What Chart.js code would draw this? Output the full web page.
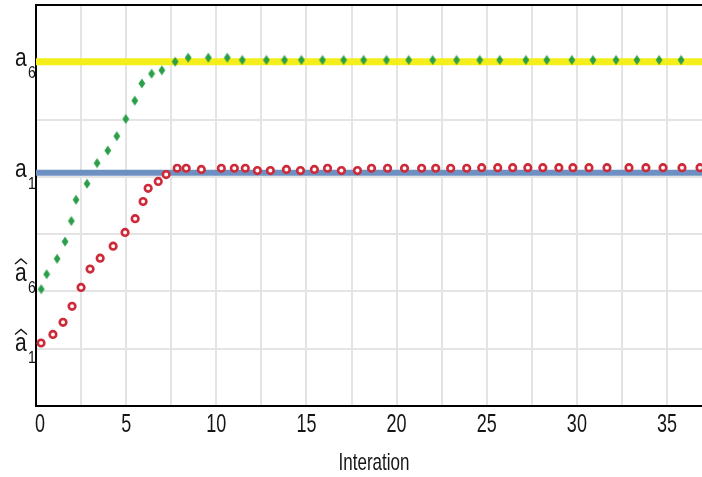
<!DOCTYPE html>
<html>
<head>
<meta charset="utf-8">
<script src="https://cdn.jsdelivr.net/npm/chart.js@4/dist/chart.umd.min.js"></script>
<style>
  html, body { margin: 0; padding: 0; background: #ffffff; overflow: hidden; }
  #wrap { width: 702px; height: 477px; }
  canvas { display: block; }
</style>
</head>
<body>
<div id="wrap"><canvas id="chart" width="702" height="477"></canvas></div>
<script>
// Estimates of a6 (green) and a1 (red) over the iterations
const greenIter = [0.29, 0.59, 1.17, 1.61, 1.96, 2.22, 2.83, 3.39, 3.98, 4.48, 4.98, 5.48, 5.87, 6.41, 6.98,
  7.72, 8.44, 9.56, 10.61, 11.44, 12.78, 13.78, 14.72, 15.89, 17.06, 18.17, 19.44, 20.67, 22.0, 23.33,
  24.61, 25.72, 27.17, 28.33, 29.72, 30.89, 32.17, 33.33, 34.56, 35.78];
const greenValue = [2.04, 2.30, 2.57, 2.87, 3.23, 3.60, 3.88, 4.24, 4.46, 4.71, 5.01, 5.33, 5.63, 5.80, 5.86,
  6.01, 6.08, 6.08, 6.08, 6.04, 6.04, 6.04, 6.04, 6.04, 6.04, 6.04, 6.04, 6.04, 6.04, 6.04,
  6.04, 6.04, 6.04, 6.04, 6.04, 6.04, 6.04, 6.04, 6.04, 6.04];

const redIter = [0.28, 0.94, 1.50, 2.00, 2.50, 3.00, 3.56, 4.28, 4.94, 5.50, 5.94, 6.22, 6.78, 7.22, 7.83,
  8.33, 9.17, 10.28, 11.00, 11.61, 12.28, 13.00, 13.89, 14.67, 15.44, 16.17, 16.94, 17.83, 18.61, 19.50,
  20.44, 21.39, 22.17, 23.00, 23.89, 24.72, 25.61, 26.44, 27.28, 28.11, 29.00, 29.78, 30.67, 31.67, 32.89,
  33.83, 34.78, 35.83, 36.83];
const redValue = [1.10, 1.25, 1.46, 1.74, 2.07, 2.39, 2.58, 2.79, 3.03, 3.27, 3.57, 3.80, 3.92, 4.04, 4.15,
  4.15, 4.13, 4.15, 4.15, 4.15, 4.11, 4.11, 4.13, 4.11, 4.13, 4.15, 4.11, 4.11, 4.15, 4.15,
  4.15, 4.15, 4.15, 4.15, 4.15, 4.16, 4.16, 4.16, 4.16, 4.16, 4.16, 4.16, 4.16, 4.16, 4.16,
  4.16, 4.16, 4.16, 4.16];

// True parameter levels
const trueA6 = 6.01;
const trueA1 = 4.07;

// Axis extents and tick labels
const xMin = 0, xMax = 36.94, xStep = 2.5, xLabelEvery = 5;
const yMin = 0, yMax = 7, yStep = 1;
const xTitle = 'Interation';

// Labels on the value axis: base letter, subscript, hat, axis value
const yLabelBase = ['a', 'a', 'a', 'a'];
const yLabelSub = ['6', '1', '6', '1'];
const yLabelHat = [false, false, true, true];
const yLabelValue = [6.01, 4.07, 2.26, 1.03];

const pts = (xs, ys) => xs.map((x, i) => ({ x: x, y: ys[i] }));

// Tall narrow diamond marker
const diamond = document.createElement('canvas');
diamond.width = 8; diamond.height = 11;
(function () {
  const c = diamond.getContext('2d');
  c.fillStyle = '#2a9e48';
  c.beginPath();
  c.moveTo(4, 0.5); c.lineTo(7.4, 5.5); c.lineTo(4, 10.5); c.lineTo(0.6, 5.5);
  c.closePath(); c.fill();
})();

const FONT = '"Liberation Sans", Arial, sans-serif';
const INK = '#151515';

// Text drawn slightly tall and narrow
function tallText(ctx, text, x, y, size, stretch, align) {
  ctx.save();
  ctx.font = size + 'px ' + FONT;
  ctx.textAlign = align;
  ctx.textBaseline = 'alphabetic';
  ctx.translate(x, y);
  ctx.scale(1, stretch);
  ctx.fillText(text, 0, 0);
  ctx.restore();
}

// Axis text: value-axis symbols, iteration tick labels and the axis title
const axisText = {
  id: 'axisText',
  afterDraw(chart) {
    const ctx = chart.ctx;
    const xs = chart.scales.x;
    const ys = chart.scales.y;
    const area = chart.chartArea;
    ctx.save();
    ctx.fillStyle = INK;
    ctx.strokeStyle = INK;

    for (let i = 0; i < yLabelBase.length; i++) {
      const base = ys.getPixelForValue(yLabelValue[i]) + 4;
      tallText(ctx, yLabelBase[i], 15, base, 21, 1.25, 'left');
      tallText(ctx, yLabelSub[i], 28, base + 12, 14, 1.2, 'left');
      if (yLabelHat[i]) {
        const top = base - 13.5;
        ctx.lineWidth = 1.4;
        ctx.beginPath();
        ctx.moveTo(15, top - 3);
        ctx.lineTo(21, top - 8);
        ctx.lineTo(27, top - 3);
        ctx.stroke();
      }
    }

    const tickBase = area.bottom + 26;
    xs.ticks.forEach(t => {
      if (Math.abs(t.value % xLabelEvery) < 1e-6) {
        const shift = t.value === xMin ? 4 : 0;
        tallText(ctx, String(t.value), xs.getPixelForValue(t.value) + shift, tickBase, 18, 1.4, 'center');
      }
    });

    const titleX = xs.getPixelForValue((xMin + xMax) / 2) + 5;
    tallText(ctx, xTitle, titleX, area.bottom + 64, 17, 1.4, 'center');
    ctx.restore();
  }
};

new Chart(document.getElementById('chart'), {
  type: 'scatter',
  data: {
    datasets: [
      {
        label: 'a6 estimate',
        data: pts(greenIter, greenValue),
        pointStyle: diamond,
        pointRadius: 5,
        showLine: false,
        clip: false,
        order: 1
      },
      {
        label: 'a1 estimate',
        data: pts(redIter, redValue),
        pointStyle: 'circle',
        pointRadius: 3.3,
        borderWidth: 2.6,
        pointBorderColor: '#cc2a38',
        pointBackgroundColor: '#fff4f4',
        showLine: false,
        clip: false,
        order: 1
      },
      {
        label: 'a6',
        data: [{ x: xMin, y: trueA6 }, { x: xMax, y: trueA6 }],
        showLine: true,
        borderColor: '#f4ee1a',
        borderWidth: 7,
        pointRadius: 0,
        order: 3
      },
      {
        label: 'a1',
        data: [{ x: xMin, y: trueA1 }, { x: xMax, y: trueA1 }],
        showLine: true,
        borderColor: '#6e8fc2',
        borderWidth: 6,
        pointRadius: 0,
        order: 3
      }
    ]
  },
  options: {
    responsive: false,
    animation: false,
    layout: { autoPadding: false, padding: { left: 36, top: 5, right: 0, bottom: 71 } },
    plugins: {
      legend: { display: false },
      tooltip: { enabled: false }
    },
    scales: {
      x: {
        type: 'linear',
        min: xMin,
        max: xMax,
        border: { color: '#000', width: 2 },
        grid: { color: '#e4e4e4', lineWidth: 2, drawTicks: false },
        ticks: { display: false, stepSize: xStep, includeBounds: false }
      },
      y: {
        min: yMin,
        max: yMax,
        border: { color: '#000', width: 2 },
        grid: {
          drawTicks: false,
          color: c => (c.tick.value === yMax ? '#000' : (c.tick.value === yMin ? 'rgba(0,0,0,0)' : '#e4e4e4')),
          lineWidth: 2
        },
        ticks: { display: false, stepSize: yStep }
      }
    }
  },
  plugins: [axisText]
});
</script>
</body>
</html>
